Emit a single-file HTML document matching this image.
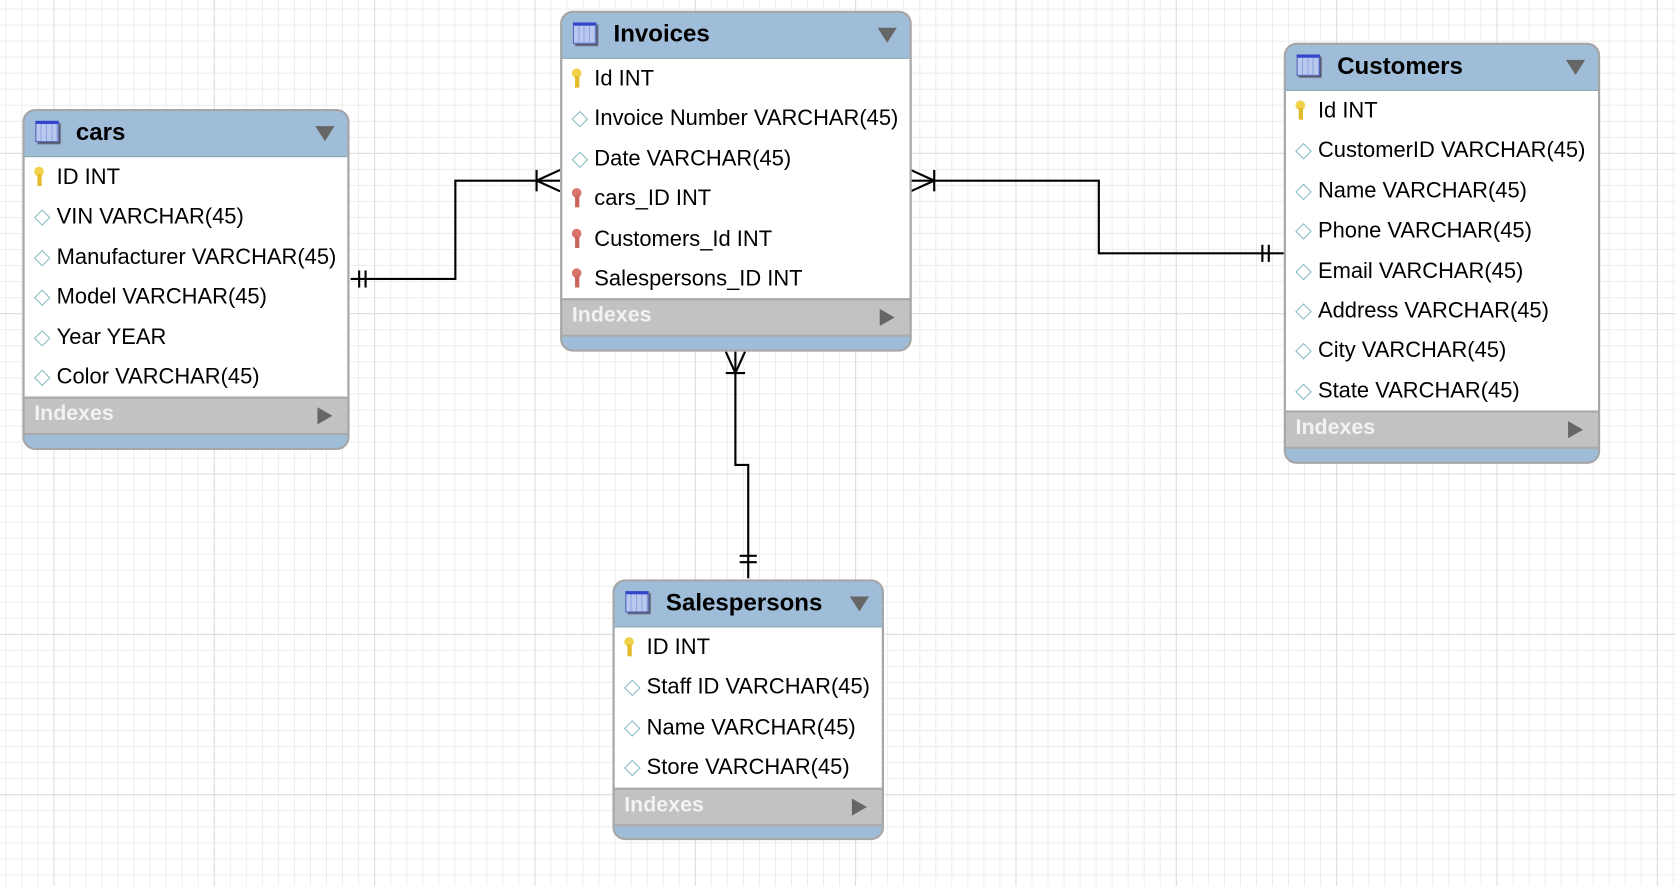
<!DOCTYPE html>
<html><head><meta charset="utf-8"><style>
html,body{margin:0;padding:0;width:1676px;height:886px;overflow:hidden;background:#fff}
#s{position:absolute;left:0;top:0;width:1568px;height:829px;transform:scale(1.0689);transform-origin:0 0;
background-color:#fff;
background-image:
linear-gradient(to right,#dcdcdc 1px,transparent 1px),
linear-gradient(to bottom,#dcdcdc 1px,transparent 1px),
linear-gradient(to right,#ececec 1px,transparent 1px),
linear-gradient(to bottom,#ececec 1px,transparent 1px);
background-size:150px 150px,150px 150px,15px 15px,15px 15px;
background-position:50px -7px,50px -7px,5px 8px,5px 8px;
font-family:"Liberation Sans",Arial,sans-serif}
.t{position:absolute;border:2px solid #a6a6a6;border-radius:12px;background:#9fbdd8;overflow:hidden;box-sizing:border-box}
.h{height:42px;position:relative;border-bottom:1px solid #8aa;}
.h b{position:absolute;left:48px;top:7px;font-size:22.5px;color:#000}
.ic{position:absolute;left:10px;top:9px;width:22px;height:20px;border:1px solid #5566bb;border-top:3px solid #3344cc;box-sizing:border-box;
background:repeating-linear-gradient(to right,#b8c8ee 0 4px,#8ea4dc 4px 5px);box-shadow:2px 2px 1px #556}
.dd{position:absolute;right:12px;top:14px;width:0;height:0;border-left:9px solid transparent;border-right:9px solid transparent;border-top:14px solid #666}
.rows{background:#fff}
.r{height:37.4px;line-height:37.4px;font-size:20.5px;color:#000;padding-left:30px;position:relative;white-space:nowrap}
.r i{position:absolute;left:11px;top:14px;width:9px;height:9px;border:1.5px solid #8bbcc4;transform:rotate(45deg);background:#fff}
.r .k,.r .f{position:absolute;left:9px;top:9px;width:9px;height:18px}
.r .k::before,.r .f::before{content:"";position:absolute;left:0;top:0;width:9px;height:9px;border-radius:50%;background:#f2d24a}
.r .k::after,.r .f::after{content:"";position:absolute;left:3px;top:7px;width:4px;height:11px;background:#e3bb2a}
.r .f::before{background:#d9746a}.r .f::after{background:#c9655c}
.ix{height:36px;background:#c2c2c2;border-top:2px solid #aaa;border-bottom:2px solid #aaa;position:relative;box-sizing:border-box}
.ix span{position:absolute;left:9px;top:3px;font-size:20px;font-weight:bold;color:#f2f2f2}
.ix em{position:absolute;right:14px;top:8px;width:0;height:0;border-top:8px solid transparent;border-bottom:8px solid transparent;border-left:14px solid #666}
svg{position:absolute;left:0;top:0}
</style></head><body><div id="s">
<svg width="1568" height="829" stroke="#000" stroke-width="2" fill="none">
<polyline points="328,261 426,261 426,169 524,169"/>
<line x1="336" y1="253" x2="336" y2="269"/><line x1="342" y1="253" x2="342" y2="269"/>
<line x1="502" y1="159" x2="502" y2="179"/><line x1="502" y1="169" x2="524" y2="159"/><line x1="502" y1="169" x2="524" y2="179"/>
<polyline points="852,169 1028,169 1028,237 1201,237"/>
<line x1="874" y1="159" x2="874" y2="179"/><line x1="874" y1="169" x2="852" y2="159"/><line x1="874" y1="169" x2="852" y2="179"/>
<line x1="1181" y1="229" x2="1181" y2="245"/><line x1="1187" y1="229" x2="1187" y2="245"/>
<polyline points="688,329 688,435 700,435 700,541"/>
<line x1="679" y1="349" x2="697" y2="349"/><line x1="688" y1="349" x2="679" y2="329"/><line x1="688" y1="349" x2="697" y2="329"/>
<line x1="692" y1="520" x2="708" y2="520"/><line x1="692" y1="526" x2="708" y2="526"/>
</svg>

<div class="t" style="left:21px;top:102px;width:306px;height:319px">
<div class="h"><div class="ic"></div><b>cars</b><div class="dd"></div></div>
<div class="rows">
<div class="r"><span class="k"></span>ID INT</div>
<div class="r"><i></i>VIN VARCHAR(45)</div>
<div class="r"><i></i>Manufacturer VARCHAR(45)</div>
<div class="r"><i></i>Model VARCHAR(45)</div>
<div class="r"><i></i>Year YEAR</div>
<div class="r"><i></i>Color VARCHAR(45)</div>
</div><div class="ix"><span>Indexes</span><em></em></div></div>

<div class="t" style="left:524px;top:10px;width:329px;height:319px">
<div class="h"><div class="ic"></div><b>Invoices</b><div class="dd"></div></div>
<div class="rows">
<div class="r"><span class="k"></span>Id INT</div>
<div class="r"><i></i>Invoice Number VARCHAR(45)</div>
<div class="r"><i></i>Date VARCHAR(45)</div>
<div class="r"><span class="f"></span>cars_ID INT</div>
<div class="r"><span class="f"></span>Customers_Id INT</div>
<div class="r"><span class="f"></span>Salespersons_ID INT</div>
</div><div class="ix"><span>Indexes</span><em></em></div></div>

<div class="t" style="left:1201px;top:40px;width:296px;height:394px">
<div class="h"><div class="ic"></div><b>Customers</b><div class="dd"></div></div>
<div class="rows">
<div class="r"><span class="k"></span>Id INT</div>
<div class="r"><i></i>CustomerID VARCHAR(45)</div>
<div class="r"><i></i>Name VARCHAR(45)</div>
<div class="r"><i></i>Phone VARCHAR(45)</div>
<div class="r"><i></i>Email VARCHAR(45)</div>
<div class="r"><i></i>Address VARCHAR(45)</div>
<div class="r"><i></i>City VARCHAR(45)</div>
<div class="r"><i></i>State VARCHAR(45)</div>
</div><div class="ix"><span>Indexes</span><em></em></div></div>

<div class="t" style="left:573px;top:542px;width:254px;height:244px">
<div class="h"><div class="ic"></div><b>Salespersons</b><div class="dd"></div></div>
<div class="rows">
<div class="r"><span class="k"></span>ID INT</div>
<div class="r"><i></i>Staff ID VARCHAR(45)</div>
<div class="r"><i></i>Name VARCHAR(45)</div>
<div class="r"><i></i>Store VARCHAR(45)</div>
</div><div class="ix"><span>Indexes</span><em></em></div></div>
</div></body></html>
